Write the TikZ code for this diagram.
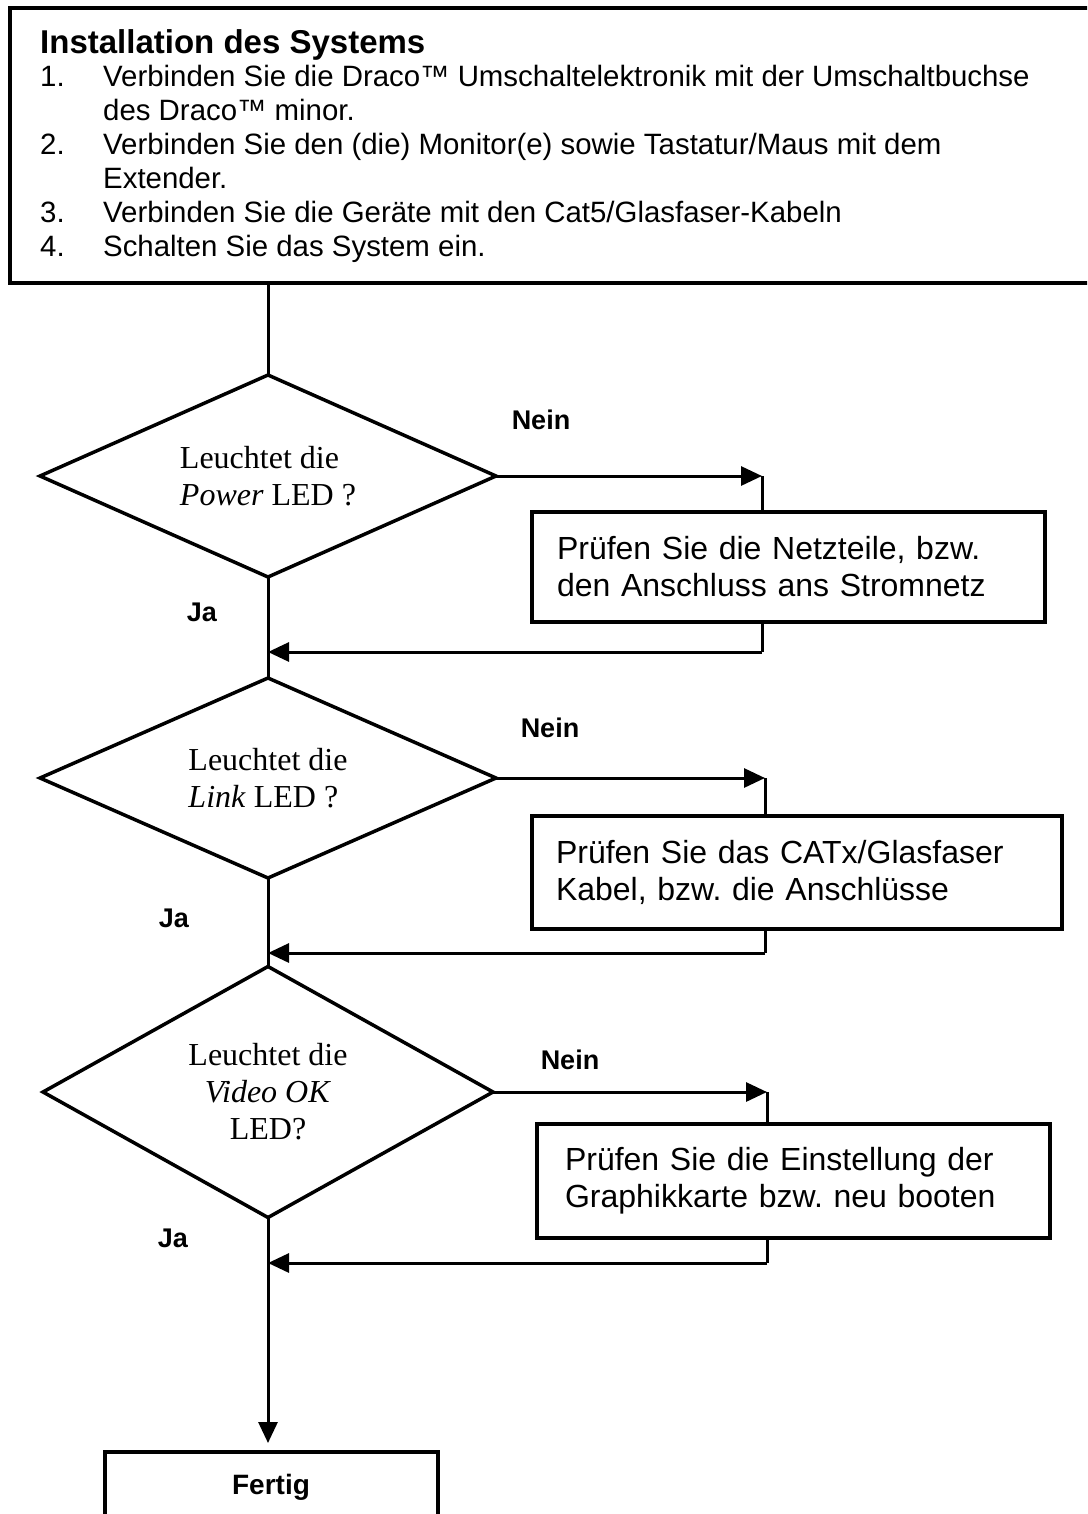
\documentclass[tikz,border=0pt]{standalone}
\usepackage{fontspec}
\setmainfont{Liberation Sans}
\newfontfamily\timesfont{Liberation Serif}
\usetikzlibrary{shapes.geometric,arrows.meta}
\frenchspacing

\begin{document}
\begin{tikzpicture}[x=1pt, y=-1pt,
    box/.style={draw, rectangle, line width=4pt, inner sep=0pt, outer sep=0pt},
    check/.style={draw, diamond, line width=3.5pt, inner sep=0pt, outer sep=0pt, font=\timesfont\fontsize{32pt}{37pt}\selectfont},
    todo/.style={box, anchor=north west, align=left, font=\fontsize{32pt}{37pt}\selectfont},
    lbl/.style={font=\bfseries\fontsize{27pt}{30pt}\selectfont},
    wire/.style={line width=3pt},
    arr/.style={wire, -{Triangle[length=21pt,width=19pt]}}]
  \clip (0,0) rectangle (1087,1514);

  % installation steps
  \node[box, minimum width=1090pt, minimum height=275pt, anchor=north west] (install) at (10,8) {};
  \node[anchor=base west, inner sep=0pt, font=\bfseries\fontsize{33pt}{38pt}\selectfont] (title) at (40,54) {Installation des Systems};
  \node[anchor=base west, inner sep=0pt, font=\fontsize{29.4pt}{34pt}\selectfont] (steps) at (40,87) {%
    \begin{tabular}[t]{@{}p{63pt}@{}l@{}}
      1. & Verbinden Sie die Draco™ Umschaltelektronik mit der Umschaltbuchse\\
         & des Draco™ minor.\\
      2. & Verbinden Sie den (die) Monitor(e) sowie Tastatur/Maus mit dem\\
         & Extender.\\
      3. & Verbinden Sie die Geräte mit den Cat5/Glasfaser-Kabeln\\
      4. & Schalten Sie das System ein.
    \end{tabular}};

  % checks
  \node[check, aspect=2.2, minimum width=456pt, minimum height=202pt, align=left] (power) at (268,476) {Leuchtet die\\\textit{Power} LED ?};
  \node[check, aspect=2.2, minimum width=456pt, minimum height=200pt, align=left] (link) at (268,778) {Leuchtet die\\\textit{Link} LED ?};
  \node[check, aspect=1.8, minimum width=450pt, minimum height=251pt, align=center] (video) at (268,1092) {Leuchtet die\\\textit{Video OK}\\LED?};

  % remedies
  \node[todo, text width=463pt, inner xsep=25pt, minimum height=110pt] (psu) at (532,512) {Prüfen Sie die Netzteile, bzw.\\den Anschluss ans Stromnetz};
  \node[todo, text width=482pt, inner xsep=24pt, minimum height=113pt] (cable) at (532,816) {Prüfen Sie das CATx/Glasfaser\\Kabel, bzw. die Anschlüsse};
  \node[todo, text width=457pt, inner xsep=28pt, minimum height=114pt] (gfx) at (537,1124) {Prüfen Sie die Einstellung der\\Graphikkarte bzw. neu booten};

  \node[box, minimum width=333pt, minimum height=70pt, anchor=north, font=\bfseries\fontsize{28pt}{32pt}\selectfont] (done) at (271,1452) {Fertig};

  % main line
  \draw[wire] (power.north |- install.south) -- (power.north);
  \draw[wire] (power.south) -- (link.north);
  \draw[wire] (link.south) -- (video.north);
  \draw[arr, shorten >=9pt] (video.south) -- (video.south |- done.north);

  % Nein branches
  \coordinate (p1) at (762,476);
  \coordinate (p2) at (762,652);
  \draw[arr] (power.east) -- (p1);
  \draw[wire] (p1) -- (p1 |- psu.north);
  \draw[wire] (psu.south -| p2) -- (p2);
  \draw[arr] (p2) -- (p2 -| power.south);

  \coordinate (l1) at (765,778);
  \coordinate (l2) at (765,953);
  \draw[arr] (link.east) -- (l1);
  \draw[wire] (l1) -- (l1 |- cable.north);
  \draw[wire] (cable.south -| l2) -- (l2);
  \draw[arr] (l2) -- (l2 -| link.south);

  \coordinate (v1) at (767,1092);
  \coordinate (v2) at (767,1263);
  \draw[arr] (video.east) -- (v1);
  \draw[wire] (v1) -- (v1 |- gfx.north);
  \draw[wire] (gfx.south -| v2) -- (v2);
  \draw[arr] (v2) -- (v2 -| video.south);

  % labels
  \node[lbl] (nein1) at (541,420) {Nein};
  \node[lbl] (ja1) at (202,612) {Ja};
  \node[lbl] (nein2) at (550,728) {Nein};
  \node[lbl] (ja2) at (174,918) {Ja};
  \node[lbl] (nein3) at (570,1060) {Nein};
  \node[lbl] (ja3) at (173,1238) {Ja};
\end{tikzpicture}
\end{document}
